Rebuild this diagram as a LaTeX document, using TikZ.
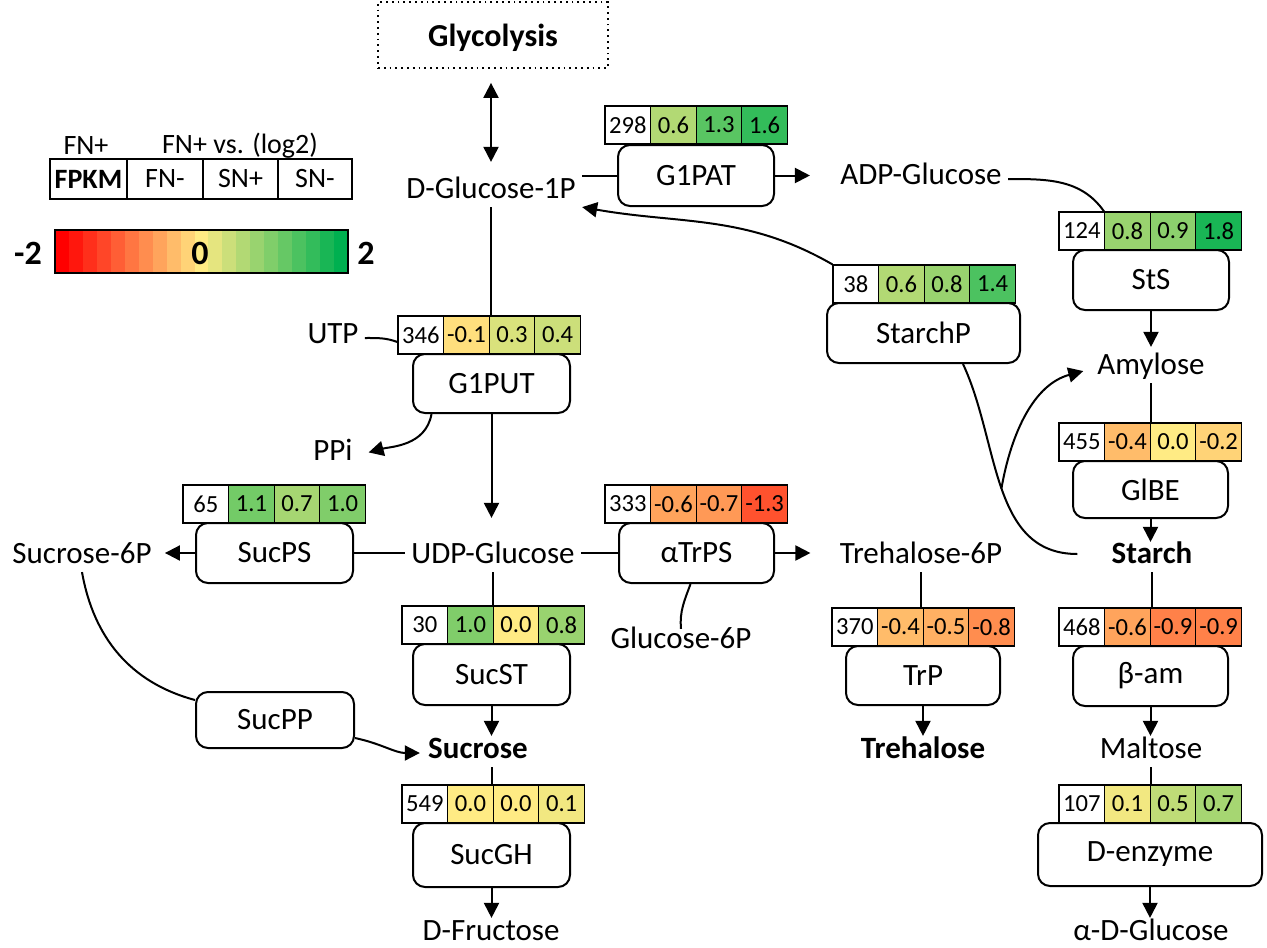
\documentclass[tikz,border=0pt]{standalone}
\usepackage{fontspec}
\setmainfont{Carlito}
\usetikzlibrary{arrows.meta,calc}
\definecolor{hmR}{RGB}{255,0,0}
\definecolor{hmY}{RGB}{255,235,132}
\definecolor{hmG}{RGB}{0,176,80}
\newcommand\hmfill[1]{\pgfmathtruncatemacro\hmp{round(abs(#1)*50)}%
  \ifdim#1pt<0pt\edef\hmcol{hmR!\hmp!hmY}\else\edef\hmcol{hmG!\hmp!hmY}\fi}
\newcommand\hstrip[7]{%
  \node[fpk] (#1-0) at (#2+22.8,#3+19) {#4};
  \hmfill{#5}\node[hm,fill=\hmcol] (#1-1) at (#2+68.4,#3+19) {#5};
  \hmfill{#6}\node[hm,fill=\hmcol] (#1-2) at (#2+114,#3+19) {#6};
  \hmfill{#7}\node[hm,fill=\hmcol] (#1-3) at (#2+159.6,#3+19) {#7};
}
\begin{document}
\begin{tikzpicture}[x=0.5pt,y=-0.5pt,
  lbl/.style={font=\fontsize{15.5}{18}\selectfont, inner xsep=3pt, inner ysep=2pt, text height=0.75em, text depth=0.22em, yshift=-2.5pt},
  blbl/.style={lbl, font=\fontsize{15.5}{18}\selectfont\bfseries},
  enz/.style={draw, line width=1pt, rounded corners=6pt, fill=white, font=\fontsize{15.5}{18}\selectfont},
  hm/.style={draw, line width=0.6pt, minimum width=22.8pt, minimum height=19pt, inner sep=0pt, font=\fontsize{12.3}{14}\selectfont},
  fpk/.style={hm, fill=white},
  leg/.style={font=\fontsize{14}{17}\selectfont, inner sep=1pt},
  legc/.style={draw, line width=1pt, minimum height=20pt, inner sep=0pt, font=\fontsize{14}{17}\selectfont},
  ln/.style={line width=1pt},
  arr/.style={ln, -{Triangle[length=7.5pt,width=7.5pt]}},
  dbl/.style={ln, {Triangle[length=7.5pt,width=7.5pt]}-{Triangle[length=7.5pt,width=7.5pt]}},
]
\useasboundingbox (0,0) rectangle (1267,947);

% legend
\node[leg] (lfn) at (86,146) {FN+};
\node[leg] (lvs) at (240,146) {FN+ vs. (log2)};
\node[legc, minimum width=38.5pt, font=\fontsize{14}{17}\selectfont\bfseries] (lfpkm) at (88.5,179) {FPKM};
\node[legc, minimum width=38pt] (lfnm) at (165,179) {FN-};
\node[legc, minimum width=37.5pt] (lsnp) at (240.5,179) {SN+};
\node[legc, minimum width=37pt] (lsnm) at (315,179) {SN-};
\foreach \k in {0,...,20}{%
  \pgfmathsetmacro\vv{-2+0.2*\k}%
  \hmfill{\vv}%
  \fill[\hmcol] (55+\k*13.952,230) rectangle (55+\k*13.952+14.2,273);
}
\draw[line width=0.8pt] (55,230) rectangle (348,273);
\node[font=\fontsize{17}{20}\selectfont\bfseries] (cbm) at (28,253) {-2};
\node[font=\fontsize{17}{20}\selectfont\bfseries] (cbz) at (200,253) {0};
\node[font=\fontsize{17}{20}\selectfont\bfseries] (cbp) at (366,253) {2};

% glycolysis
\node[draw, dotted, line width=0.9pt, minimum width=115pt, minimum height=33pt, text depth=0pt, font=\fontsize{16}{19}\selectfont\bfseries] (glyc) at (493,35) {Glycolysis};

% enzyme boxes
\node[enz, minimum width=78pt, minimum height=30.5pt] (g1pat) at (696,175.5) {G1PAT};
\node[enz, minimum width=78pt, minimum height=30pt] (sts) at (1151,280) {StS};
\node[enz, minimum width=96.5pt, minimum height=30pt] (starchp) at (923.5,333) {StarchP};
\node[enz, minimum width=78.5pt, minimum height=29.5pt] (g1put) at (491.5,383.5) {G1PUT};
\node[enz, minimum width=77.5pt, minimum height=28.5pt] (glbe) at (1150.5,489.5) {GlBE};
\node[enz, minimum width=78.5pt, minimum height=30pt] (sucps) at (274.5,553) {SucPS};
\node[enz, minimum width=77.5pt, minimum height=30pt] (trps) at (696.5,553) {αTrPS};
\node[enz, minimum width=78.5pt, minimum height=30.5pt] (sucst) at (491.5,674.5) {SucST};
\node[enz, minimum width=77pt, minimum height=29.5pt] (trp) at (923,675.5) {TrP};
\node[enz, minimum width=77.5pt, minimum height=30pt] (bam) at (1150.5,676) {β-am};
\node[enz, minimum width=79pt, minimum height=28pt] (sucpp) at (275,720) {SucPP};
\node[enz, minimum width=78.5pt, minimum height=32pt] (sucgh) at (491.5,855) {SucGH};
\node[enz, minimum width=112pt, minimum height=31.5pt] (denz) at (1150,854.5) {D-enzyme};

% heat strips
\hstrip{sg1pat}{605}{106}{298}{0.6}{1.3}{1.6}
\hstrip{ssts}{1059}{212}{124}{0.8}{0.9}{1.8}
\hstrip{sstarchp}{833}{265}{38}{0.6}{0.8}{1.4}
\hstrip{sg1put}{398}{316}{346}{-0.1}{0.3}{0.4}
\hstrip{sglbe}{1059}{423}{455}{-0.4}{0.0}{-0.2}
\hstrip{ssucps}{183}{485}{65}{1.1}{0.7}{1.0}
\hstrip{strps}{605}{485}{333}{-0.6}{-0.7}{-1.3}
\hstrip{ssucst}{402}{606}{30}{1.0}{0.0}{0.8}
\hstrip{strp}{832}{608}{370}{-0.4}{-0.5}{-0.8}
\hstrip{sbam}{1059}{608}{468}{-0.6}{-0.9}{-0.9}
\hstrip{ssucgh}{402}{785}{549}{0.0}{0.0}{0.1}
\hstrip{sdenz}{1059}{785}{107}{0.1}{0.5}{0.7}

% metabolites
\node[lbl] (g1p) at (491,188) {D-Glucose-1P};
\node[lbl] (adpg) at (921,174) {ADP-Glucose};
\node[lbl] (utp) at (333,333) {UTP};
\node[lbl] (ppi) at (333,450) {PPi};
\node[lbl] (suc6p) at (82,553) {Sucrose-6P};
\node[lbl] (udpg) at (493,553) {UDP-Glucose};
\node[lbl] (t6p) at (921,553) {Trehalose-6P};
\node[lbl] (g6p) at (681,638) {Glucose-6P};
\node[lbl] (amyl) at (1151,364) {Amylose};
\node[blbl] (starch) at (1152,553) {Starch};
\node[blbl] (sucrose) at (478,748) {Sucrose};
\node[blbl] (treh) at (923,748) {Trehalose};
\node[lbl] (malt) at (1151,748) {Maltose};
\node[lbl] (dfru) at (491,930) {D-Fructose};
\node[lbl] (adg) at (1151,930) {α-D-Glucose};

% connectors
\draw[dbl, shorten <=7pt, shorten >=8.5pt] (g1p.north |- glyc.south) -- (g1p.north);
\draw[ln] (g1p.east |- g1pat.west) -- (g1pat.west);
\draw[arr, shorten >=12pt] (g1pat.east) -- (adpg.west |- g1pat.east);
\draw[ln] (adpg.east) to[out=0,in=125] (ssts-1.north west);
\draw[arr, shorten >=4pt] (sts.south) -- (sts.south |- amyl.north);
\draw[ln] (amyl.south) -- (amyl.south |- sglbe-2.north);
\draw[arr, shorten >=1pt] (glbe.south) -- (glbe.south |- starch.north);
\draw[ln] (starch.south) -- (starch.south |- sbam-2.north);
\draw[arr, shorten >=1.5pt] (bam.south) -- (bam.south |- malt.north);
\draw[ln] (malt.south) -- (malt.south |- sdenz-2.north);
\draw[arr, shorten >=1.5pt] (denz.south) -- (denz.south |- adg.north);

\draw[ln] (g1p.south) -- (g1p.south |- sg1put-2.north);
\draw[ln] (utp.east) to[out=0,in=160] ([yshift=-3.5pt]sg1put-0.west);
\draw[arr, shorten >=5pt] ([xshift=-30pt]g1put.south) to[out=-100,in=15] (ppi.east);
\draw[arr, shorten >=13pt] (g1put.south) -- (g1put.south |- udpg.north);
\draw[ln] (udpg.west |- sucps.east) -- (sucps.east);
\draw[arr, shorten >=3.5pt] (sucps.west) -- (suc6p.east |- sucps.west);
\draw[ln] (udpg.east |- trps.west) -- (trps.west);
\draw[arr, shorten >=11.5pt] (trps.east) -- (t6p.west |- trps.east);
\draw[ln] (g6p.north) to[out=95,in=-110] ([xshift=-3pt]trps.south);
\draw[ln] (t6p.south) -- (t6p.south |- strp-2.north);
\draw[arr, shorten >=1.5pt] (trp.south) -- (trp.south |- treh.north);
\draw[ln] (udpg.south) -- (udpg.south |- ssucst-2.north);
\draw[arr, shorten >=1.5pt] (sucst.south) -- (sucst.south |- sucrose.north);
\draw[ln] (sucgh.north |- sucrose.south) -- (sucgh.north |- ssucgh-2.north);
\draw[arr, shorten >=1.5pt] (sucgh.south) -- (sucgh.south |- dfru.north);
\draw[ln] (suc6p.south) to[out=-80,in=165] ([yshift=10pt]sucpp.west);
\draw[arr, shorten >=1pt] ([yshift=-9pt]sucpp.east) to[out=-12,in=180] (sucrose.west);

\draw[ln] ([xshift=-14pt,yshift=2pt]starch.west) to[out=180,in=-65] coordinate[pos=0.5] (br) ([xshift=19.75pt]starchp.south);
\draw[arr, shorten >=4pt] (br) to[out=80,in=195] (amyl.west);
\draw[arr] (sstarchp-0.north west) to[out=150,in=-10] (g1p.south east);
\end{tikzpicture}
\end{document}
